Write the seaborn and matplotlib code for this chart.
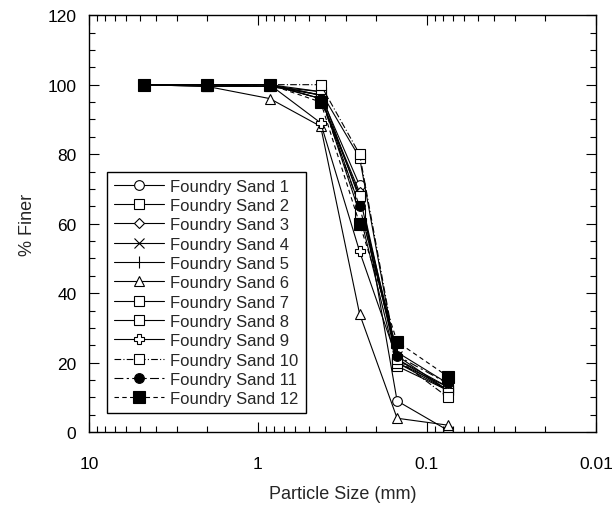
import matplotlib
matplotlib.use("Agg")
import matplotlib.pyplot as plt
import seaborn as sns
from matplotlib.ticker import LogLocator, MultipleLocator, FixedLocator, FixedFormatter, NullFormatter

sizes = [4.75, 2.0, 0.85, 0.425, 0.25, 0.15, 0.075]

sand1 = [100, 100, 100, 97, 71, 9, 0.5]
sand2 = [100, 99.5, 99.5, 98, 79, 20, 12]
sand3 = [100, 100, 100, 96, 69, 21, 13]
sand4 = [100, 100, 99.5, 97, 65, 22, 12]
sand5 = [100, 100, 100, 98, 67, 23, 14]
sand6 = [100, 99.5, 96, 88, 34, 4, 2]
sand7 = [100, 100, 100, 97, 63, 19, 12]
sand8 = [100, 100, 100, 96, 68, 20, 13]
sand9 = [100, 100, 100, 89, 52, 21, 12]
sand10 = [100, 100, 100, 100, 80, 21, 10]
sand11 = [100, 100, 100, 96, 65, 22, 14]
sand12 = [100, 100, 100, 95, 60, 26, 16]

labels = [f"Foundry Sand {i}" for i in range(1, 13)]
series = [sand1, sand2, sand3, sand4, sand5, sand6, sand7, sand8, sand9, sand10, sand11, sand12]

x_ticks = [10, 1, 0.1, 0.01]
x_tick_labels = ["10", "1", "0.1", "0.01"]

sns.set_style("ticks")
plt.rcParams['font.family'] = ['Liberation Sans', 'DejaVu Sans']

styles = [
    dict(marker='o', mfc='white', ms=7, ls='-'),
    dict(marker='s', mfc='white', ms=7, ls='-'),
    dict(marker='D', mfc='white', ms=5, ls='-'),
    dict(marker='x', mfc='white', ms=7, ls='-'),
    dict(marker='|', mfc='white', ms=9, ls='-'),
    dict(marker='^', mfc='white', ms=7, ls='-'),
    dict(marker='s', mfc='white', ms=7, ls='-'),
    dict(marker='s', mfc='white', ms=7, ls='-'),
    dict(marker='P', mfc='white', ms=7, ls='-'),
    dict(marker='s', mfc='white', ms=7, ls=(0, (6, 2, 1, 2))),
    dict(marker='o', mfc='black', ms=7, ls=(0, (8, 3, 2, 3))),
    dict(marker='s', mfc='black', ms=8, ls=(0, (4, 3))),
]

fig = plt.figure(figsize=(6.13, 5.06), dpi=100)
ax = fig.add_axes([0.145, 0.144, 0.827, 0.824])

for vals, lab, st in zip(series, labels, styles):
    sns.lineplot(x=sizes, y=vals, ax=ax, color='black', lw=0.8,
                 marker=st['marker'], mfc=st['mfc'], mec='black', mew=0.8,
                 ms=st['ms'], linestyle=st['ls'], label=lab, sort=False,
                 estimator=None)

ax.set_xscale('log')
ax.set_xlim(10, 0.01)
ax.set_ylim(0, 120)
ax.xaxis.set_major_locator(FixedLocator(x_ticks))
ax.xaxis.set_major_formatter(FixedFormatter(x_tick_labels))
ax.xaxis.set_minor_locator(LogLocator(base=10, subs=range(2, 10)))
ax.xaxis.set_minor_formatter(NullFormatter())
ax.yaxis.set_major_locator(MultipleLocator(20))
ax.yaxis.set_minor_locator(MultipleLocator(5))

ax.tick_params(which='both', direction='in', top=True, right=True, colors='black',
               labelsize=12.5, width=0.8)
ax.tick_params(which='major', length=7)
ax.tick_params(which='minor', length=4)
ax.tick_params(axis='y', which='major', pad=9)
ax.tick_params(axis='x', which='major', pad=17)
for s in ax.spines.values():
    s.set_color('black')
    s.set_linewidth(1.0)

ax.set_xlabel("Particle Size (mm)", fontsize=13, labelpad=10)
ax.set_ylabel("% Finer", fontsize=13, labelpad=8)

leg = ax.legend(loc='upper left', bbox_to_anchor=(0.036, 0.624), fontsize=12,
                frameon=True, fancybox=False, edgecolor='black', framealpha=1,
                handlelength=3.0, labelspacing=0.26, borderpad=0.4,
                handletextpad=0.4, borderaxespad=0)
leg.get_frame().set_linewidth(1.0)

fig.savefig("out.png", dpi=100)
